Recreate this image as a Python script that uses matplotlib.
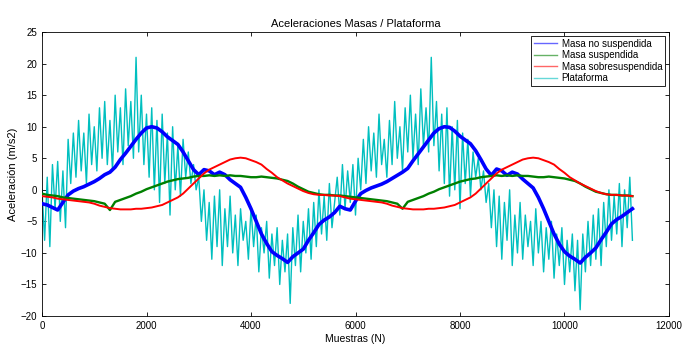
import numpy as np
import matplotlib
matplotlib.use("Agg")
import matplotlib.pyplot as plt

plt.rcParams['font.family'] = ['Liberation Sans', 'DejaVu Sans']

# Sample step of each series (samples between stored values)
STEP_MASSES = 100
STEP_PLATFORM = 50

# Masa no suspendida (m/s2), every 100 samples from 0
masa_no_suspendida = [
    -2.2, -2.4, -2.8, -3.2, -2.0, -0.8, -0.2, 0.2, 0.5, 0.9,
    1.3, 1.8, 2.4, 2.8, 3.6, 4.8, 5.8, 6.9, 8.0, 9.0,
    9.8, 10.0, 9.8, 9.2, 8.4, 7.8, 7.2, 6.0, 4.6, 3.2,
    2.4, 3.2, 3.0, 2.4, 2.8, 2.4, 1.6, 1.0, 0.4, -1.2,
    -3.0, -5.0, -7.0, -8.5, -9.8, -10.4, -10.9, -11.5, -10.6, -10.0,
    -9.4, -8.0, -6.8, -5.5, -4.8, -4.3, -3.6,
    -2.6, -3.0, -3.2, -1.8, -0.6, -0.1, 0.3, 0.6, 0.9, 1.3,
    1.8, 2.3, 2.8, 3.4, 4.6, 5.7, 6.8, 7.9, 9.0, 9.7,
    10.0, 9.9, 9.3, 8.5, 7.9, 7.3, 6.2, 4.8, 3.3, 2.3,
    3.3, 3.0, 2.3, 2.8, 2.5, 1.7, 1.0, 0.3, -1.2, -3.0,
    -5.0, -7.0, -8.6, -9.8, -10.5, -11.0, -11.6, -10.7, -10.0, -9.2,
    -7.9, -6.7, -5.4, -4.7, -4.2, -3.6, -3.0,
]

# Masa suspendida (m/s2), every 100 samples from 0
masa_suspendida = [
    -0.6, -0.8, -0.9, -1.0, -1.2, -1.3, -1.4, -1.5, -1.6, -1.7,
    -1.8, -2.0, -2.2, -3.2, -1.9, -1.6, -1.3, -1.0, -0.6, -0.3,
    0.1, 0.4, 0.7, 1.0, 1.3, 1.5, 1.7, 1.8, 1.9, 2.1,
    2.2, 2.2, 2.3, 2.2, 2.3, 2.2, 2.3, 2.2, 2.2, 2.1,
    2.0, 2.0, 2.1, 2.0, 1.9, 1.8, 1.6, 1.4, 1.0, 0.5,
    0.1, -0.3, -0.5, -0.7, -0.8, -0.8, -0.9,
    -0.9, -1.0, -1.1, -1.2, -1.3, -1.4, -1.5, -1.6, -1.7, -1.8,
    -2.0, -2.2, -3.0, -1.9, -1.6, -1.3, -1.0, -0.6, -0.3, 0.1,
    0.4, 0.7, 1.0, 1.3, 1.5, 1.7, 1.8, 2.0, 2.1, 2.2,
    2.3, 2.2, 2.3, 2.2, 2.3, 2.2, 2.2, 2.1, 2.0, 2.0,
    2.1, 2.0, 1.9, 1.8, 1.6, 1.4, 1.0, 0.5, 0.1, -0.3,
    -0.5, -0.7, -0.8, -0.8, -0.9, -0.9, -1.0,
]

# Masa sobresuspendida (m/s2), every 100 samples from 0
masa_sobresuspendida = [
    -1.0, -1.1, -1.2, -1.4, -1.5, -1.6, -1.7, -1.8, -1.9, -2.0,
    -2.2, -2.5, -2.7, -2.9, -3.0, -3.1, -3.1, -3.1, -3.0, -3.0,
    -2.9, -2.8, -2.6, -2.4, -2.0, -1.6, -1.2, -0.6, 0.2, 1.0,
    1.8, 2.6, 3.2, 3.6, 4.0, 4.4, 4.8, 5.0, 5.1, 5.0,
    4.7, 4.4, 4.0, 3.3, 2.7, 2.0, 1.5, 1.0, 0.6, 0.2,
    -0.2, -0.5, -0.7, -0.8, -0.8, -0.9, -0.9,
    -1.0, -1.2, -1.4, -1.5, -1.6, -1.7, -1.8, -1.9, -2.0, -2.2,
    -2.5, -2.7, -2.9, -3.0, -3.1, -3.1, -3.1, -3.0, -3.0, -2.9,
    -2.8, -2.6, -2.4, -2.0, -1.6, -1.2, -0.6, 0.2, 1.0, 1.8,
    2.6, 3.2, 3.6, 4.0, 4.4, 4.8, 5.0, 5.1, 5.0, 4.7,
    4.4, 4.0, 3.3, 2.7, 2.0, 1.5, 1.0, 0.6, 0.2, -0.2,
    -0.5, -0.7, -0.8, -0.8, -0.9, -0.9, -1.0,
]

# Plataforma (m/s2), every 50 samples from 0
plataforma = [
    0, -8, 2, -9, 4, -3, 4.5, -5, 3, -6,
    8, 1, 9, 2, 11, 3, 9, 1, 12, 4,
    10, 3, 13, 5, 14, 4, 11, 3, 15, 6,
    13, 4, 16, 7, 14, 5, 21, 6, 15, 4,
    12, 2, 13, 0, 11, -2, 12, 1, 9, -4,
    10, 0, 7, -1, 8, 2, 6, 1, 4, 0,
    2, -5, 0, -8, -2, -11, -1, -9, 0, -12,
    -3, -9, -1, -10, -4, -12, -3, -8, -5, -11,
    -3, -9, -4, -13, -6, -10, -5, -14, -7, -12,
    -6, -15, -8, -13, -7, -18, -6, -12, -4, -13,
    -5, -10, -3, -11, -2, -9, 0, -7, -1, -8,
    1, -6,
    -2, 2, -4, 4, -3, 3, -2, 4, -4, 5,
    0, 8, 1, 10, 3, 9, 2, 12, 4, 8,
    2, 11, 4, 14, 5, 10, 3, 13, 6, 15,
    5, 12, 4, 16, 7, 13, 6, 21, 7, 14,
    3, 12, 1, 13, -1, 10, 0, 11, -3, 9,
    1, 8, -1, 6, 2, 5, 0, 3, -2, 1,
    -6, 0, -9, -1, -11, -2, -8, 0, -12, -4,
    -10, -2, -11, -4, -9, -5, -12, -3, -10, -5,
    -13, -6, -11, -5, -14, -7, -12, -6, -15, -8,
    -13, -7, -16, -8, -19, -7, -13, -5, -12, -4,
    -11, -3, -12, -2, -9, 0, -8, -1, -7, 1,
    -9, 0, -6, 2, -8,
]

series = [
    ("Masa no suspendida", masa_no_suspendida, STEP_MASSES, "#0000ff", 2.6, 3),
    ("Masa suspendida", masa_suspendida, STEP_MASSES, "#008000", 1.7, 4),
    ("Masa sobresuspendida", masa_sobresuspendida, STEP_MASSES, "#ff0000", 1.4, 5),
    ("Plataforma", plataforma, STEP_PLATFORM, "#00bfbf", 1.0, 2),
]

fig = plt.figure(figsize=(6.83, 3.45), dpi=100)
ax = fig.add_axes([0.0615, 0.084, 0.918, 0.823])

handles = []
for label, values, step, color, lw, z in series:
    xs = np.arange(len(values)) * step
    line, = ax.plot(xs, values, color=color, lw=lw, zorder=z, label=label)
    handles.append(line)

ax.set_xlim(0, 12000)
ax.set_ylim(-20, 25)
ax.set_xticks([0, 2000, 4000, 6000, 8000, 10000, 12000])
ax.set_yticks(np.arange(-20, 26, 5))
ax.tick_params(direction='in', top=True, right=True, labelsize=7, length=3, width=0.6)
for s in ax.spines.values():
    s.set_linewidth(0.6)

ax.set_title("Aceleraciones Masas / Plataforma", fontsize=8, pad=4)
ax.set_xlabel("Muestras (N)", fontsize=7.5, labelpad=2)
ax.set_ylabel("Aceleración (m/s2)", fontsize=8, labelpad=2)

leg = ax.legend(handles=handles, loc='upper right', fontsize=7, frameon=True,
                fancybox=False, edgecolor='black', framealpha=1,
                handlelength=2.3, borderpad=0.3, labelspacing=0.15,
                borderaxespad=0.4, handletextpad=0.5)
leg.get_frame().set_linewidth(0.6)
for h in leg.legend_handles:
    h.set_linewidth(1.0)
    h.set_alpha(0.6)

fig.savefig("out.png", dpi=100)
